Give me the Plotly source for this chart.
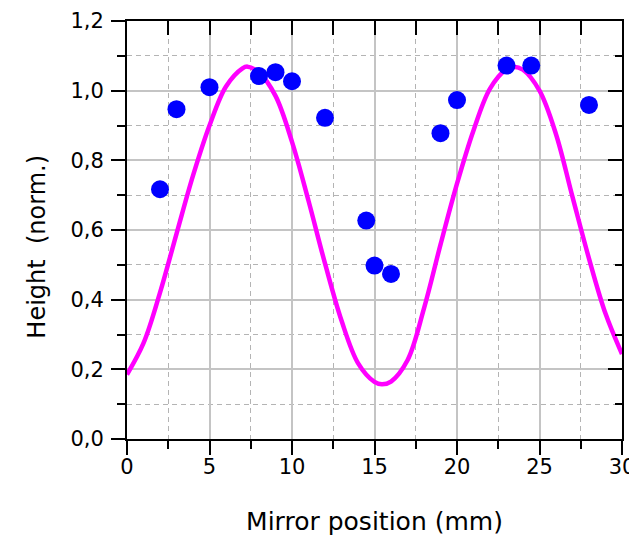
import plotly.graph_objects as go

# Measured points
position_mm = [2, 3, 5, 8, 9, 10, 12, 14.5, 15, 16, 19, 20, 23, 24.5, 28]
height_norm = [0.717, 0.947, 1.010, 1.042, 1.053, 1.027, 0.922, 0.627, 0.498,
               0.474, 0.878, 0.973, 1.072, 1.072, 0.959]

# Fit curve at 1 mm steps (plus extrema)
fit_x = [0, 1, 2, 3, 4, 5, 6, 7, 7.3, 8, 9, 10, 11, 12, 13, 14, 15, 15.45, 16, 17,
         18, 19, 20, 21, 22, 23, 23.45, 24, 25, 26, 27, 28, 29, 30]
fit_y = [0.185, 0.275, 0.420, 0.589, 0.756, 0.900, 1.012, 1.064, 1.069, 1.052,
         0.985, 0.853, 0.684, 0.504, 0.340, 0.218, 0.164, 0.157, 0.165, 0.226,
         0.375, 0.558, 0.733, 0.886, 1.006, 1.062, 1.069, 1.060, 1.000, 0.875,
         0.695, 0.518, 0.360, 0.244]

x_tick_vals = [0, 5, 10, 15, 20, 25, 30]
x_tick_text = ["0", "5", "10", "15", "20", "25", "30"]
y_tick_vals = [0.0, 0.2, 0.4, 0.6, 0.8, 1.0, 1.2]
y_tick_text = ["0,0", "0,2", "0,4", "0,6", "0,8", "1,0", "1,2"]

FONT = "DejaVu Sans, Arial, sans-serif"
GRID = "#c4c4c4"
MGRID = "#b4b4b4"

fig = go.Figure()
fig.add_trace(go.Scatter(x=fit_x, y=fit_y, mode="lines",
                         line=dict(color="#ff00ff", width=4.5, shape="spline", smoothing=1.0),
                         showlegend=False, hoverinfo="skip"))
fig.add_trace(go.Scatter(x=position_mm, y=height_norm, mode="markers",
                         marker=dict(color="#0000ff", size=18, line=dict(width=0)),
                         showlegend=False))
# dummy trace for mirrored axes
fig.add_trace(go.Scatter(x=[None], y=[None], xaxis="x2", yaxis="y2", showlegend=False))

common_x = dict(range=[0, 30], tickvals=x_tick_vals, ticktext=x_tick_text)
common_y = dict(range=[0, 1.2], tickvals=y_tick_vals, ticktext=y_tick_text)

# page body has an 8px default margin -> compensate
fig.update_layout(
    width=629, height=531,
    margin=dict(l=119, r=15, t=13, b=100),
    paper_bgcolor="white", plot_bgcolor="white",
    font=dict(family=FONT, size=21, color="black"),
    xaxis=dict(**common_x, showline=True, linecolor="black", linewidth=2,
               ticks="outside", ticklen=14, tickwidth=2, tickcolor="black",
               showgrid=True, gridcolor=GRID, gridwidth=1.5, zeroline=False,
               automargin=False, ticklabelstandoff=-6,
               minor=dict(dtick=2.5, tick0=0, ticks="outside", ticklen=8, tickwidth=2,
                          tickcolor="black", showgrid=True, gridcolor=MGRID,
                          gridwidth=1.3, griddash="5px,4px"),
               tickfont=dict(size=21),
               title=dict(text="Mirror position (mm)", font=dict(size=25), standoff=34)),
    yaxis=dict(**common_y, showline=True, linecolor="black", linewidth=2,
               ticks="outside", ticklen=14, tickwidth=2, tickcolor="black",
               showgrid=True, gridcolor=GRID, gridwidth=1.5, zeroline=False,
               automargin=False, ticklabelstandoff=3,
               minor=dict(dtick=0.1, tick0=0, ticks="outside", ticklen=8, tickwidth=2,
                          tickcolor="black", showgrid=True, gridcolor=MGRID,
                          gridwidth=1.3, griddash="5px,4px"),
               tickfont=dict(size=21)),
    xaxis2=dict(**common_x, overlaying="x", side="top", anchor="y2",
                showline=True, linecolor="black", linewidth=2,
                ticks="inside", ticklen=14, tickwidth=2, tickcolor="black",
                showticklabels=False, showgrid=False, zeroline=False,
                minor=dict(dtick=2.5, tick0=0, ticks="inside", ticklen=14, tickwidth=2,
                           tickcolor="black", showgrid=False)),
    yaxis2=dict(**common_y, overlaying="y", side="right", anchor="x2",
                showline=True, linecolor="black", linewidth=2,
                ticks="inside", ticklen=14, tickwidth=2, tickcolor="black",
                showticklabels=False, showgrid=False, zeroline=False,
                minor=dict(dtick=0.1, tick0=0, ticks="inside", ticklen=7, tickwidth=2,
                           tickcolor="black", showgrid=False)),
    annotations=[dict(text="Height\u00a0 (norm.)", textangle=-90, showarrow=False,
                      xref="paper", yref="paper", x=-0.182, y=0.46,
                      xanchor="center", yanchor="middle",
                      font=dict(size=24, family=FONT, color="black"))],
)

fig.write_html("out.html")
